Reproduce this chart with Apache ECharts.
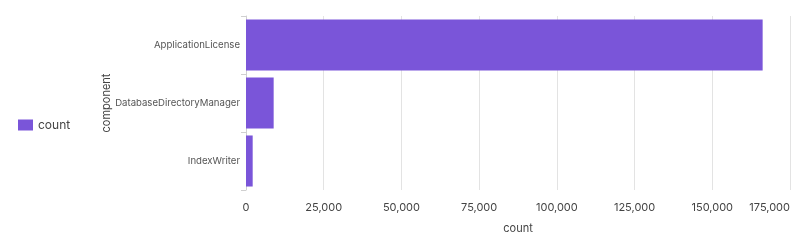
<!DOCTYPE html>
<html><head><meta charset="utf-8">
<script src="https://cdn.jsdelivr.net/npm/echarts@6/dist/echarts.min.js"></script>
<style>html,body{margin:0;padding:0;background:#fff}#c{width:800px;height:250px}</style>
</head><body><div id="c"></div>
<script>
const categories = ["ApplicationLicense", "DatabaseDirectoryManager", "IndexWriter"];
const counts = [166200, 8900, 2150];
const seriesName = "count";
const xMin = 0, xMax = 175000, xInterval = 25000;

const chart = echarts.init(document.getElementById('c'), null, {renderer: 'canvas'});
const fam = 'Inter, "Noto Sans", sans-serif';
chart.setOption({
  animation: false,
  textStyle: {fontFamily: fam},
  grid: {left: 246, right: 10, top: 16, bottom: 60, outerBoundsMode: 'none', containLabel: false},
  legend: {
    data: [seriesName], orient: 'vertical', left: 18, top: 'middle', padding: 0,
    itemWidth: 15, itemHeight: 11, icon: 'rect', itemGap: 6,
    textStyle: {fontSize: 12, color: '#444', fontFamily: fam}
  },
  xAxis: {
    type: 'value', min: xMin, max: xMax, interval: xInterval,
    name: 'count', nameLocation: 'middle', nameGap: 33, nameMoveOverlap: false,
    nameTextStyle: {fontSize: 11, color: '#444'},
    axisLine: {show: false}, axisTick: {show: false},
    axisLabel: {fontSize: 11, color: '#444', margin: 12, alignMaxLabel: 'right',
      formatter: v => v.toLocaleString('en-US')},
    splitLine: {show: true, lineStyle: {color: '#e3e3e3', width: 1}}
  },
  yAxis: {
    type: 'category', data: categories, inverse: true,
    name: 'component', nameLocation: 'middle', nameGap: 134, nameRotate: 90, nameMoveOverlap: false,
    nameTextStyle: {fontSize: 11, color: '#444'},
    axisLine: {show: true, lineStyle: {color: '#d0d0d0'}},
    axisTick: {show: true, length: 5, lineStyle: {color: '#d0d0d0'}},
    axisLabel: {fontSize: 9.6, color: '#555', margin: 6},
    splitLine: {show: false}
  },
  series: [{
    name: seriesName, type: 'bar', data: counts,
    barCategoryGap: '12%',
    itemStyle: {color: '#7a55d9'}
  }]
});
</script></body></html>
